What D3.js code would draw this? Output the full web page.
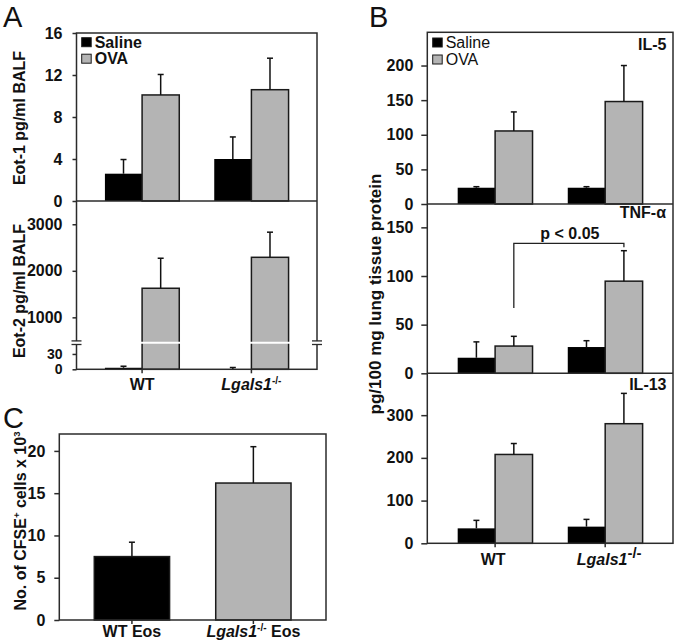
<!DOCTYPE html>
<html><head><meta charset="utf-8">
<script src="https://cdn.jsdelivr.net/npm/d3@7"></script>
<style>
body{margin:0;background:#fff;}
svg{display:block;font-family:"Liberation Sans",Arial,sans-serif;}
</style></head><body>
<svg id="c" width="677" height="642"></svg>
<script>
// ---------- data ----------
const groups = ["WT", "Lgals1"];
const series = ["Saline", "OVA"];
const eot1Saline = [2.6, 4.0],  eot1SalineErr = [1.35, 2.1];
const eot1OVA    = [10.1, 10.6], eot1OVAErr   = [1.95, 3.0];
const eot2Saline = [3, 0.5],     eot2SalineErr = [3, 3];
const eot2OVA    = [1625, 2290], eot2OVAErr    = [645, 540];
const il5Saline  = [23.5, 23.5], il5SalineErr  = [1.5, 1.5];
const il5OVA     = [105.5, 148], il5OVAErr     = [27.5, 52];
const tnfSaline  = [16, 27],     tnfSalineErr  = [16.3, 6.5];
const tnfOVA     = [28, 94.7],   tnfOVAErr     = [10, 31.3];
const il13Saline = [35, 39],     il13SalineErr = [18.7, 17];
const il13OVA    = [208, 280],   il13OVAErr    = [25.6, 71];
const cfseGroups = ["WT Eos", "Lgals1 Eos"];
const cfseValues = [7.5, 16.2],  cfseErr = [1.7, 4.3];
const ticksEot1 = [0, 4, 8, 12, 16];
const ticksEot2Low = [0, 30], ticksEot2High = [1000, 2000, 3000];
const ticksIL5 = [0, 50, 100, 150, 200];
const ticksTNF = [0, 50, 100, 150];
const ticksIL13 = [0, 100, 200, 300];
const ticksCFSE = [0, 5, 10, 15, 20];
const pBracket = {label: "p < 0.05", top: 133.5, leftFoot: 67, rightFoot: 129.5};

// ---------- drawing ----------
const svg = d3.select("#c");
const FONT = '"Liberation Sans",Arial,sans-serif';
const BLACK = "#000", GREY = "#b4b4b4", AX = "#2b2b2b";
const colors = {Saline: BLACK, OVA: GREY};

function yAxis(scale, ticks, x, tickLen, pad, size) {
  const g = svg.append("g").attr("transform", `translate(${x},0)`);
  g.call(d3.axisLeft(scale).tickValues(ticks).tickFormat(d3.format("d"))
    .tickSize(tickLen).tickPadding(pad).tickSizeOuter(0));
  g.select(".domain").remove();
  g.attr("font-family", FONT).attr("font-size", size || 16);
  g.selectAll(".tick line").attr("stroke", AX).attr("stroke-width", 1.5);
  g.selectAll(".tick text").attr("font-weight", "bold").attr("fill", "#111");
  return g;
}
function frame(x0, y0, x1, y1) {
  svg.append("rect").attr("x", x0).attr("y", y0).attr("width", x1 - x0).attr("height", y1 - y0)
    .attr("fill", "none").attr("stroke", AX).attr("stroke-width", 1.5);
}
function hline(x0, x1, y) {
  svg.append("line").attr("x1", x0).attr("x2", x1).attr("y1", y).attr("y2", y)
    .attr("stroke", AX).attr("stroke-width", 1.5);
}
function errBar(x, yv, ye) {
  svg.append("line").attr("x1", x).attr("x2", x).attr("y1", yv).attr("y2", ye)
    .attr("stroke", "#111").attr("stroke-width", 1.5);
  svg.append("line").attr("x1", x - 3).attr("x2", x + 3).attr("y1", ye).attr("y2", ye)
    .attr("stroke", "#111").attr("stroke-width", 1.5);
}
function groupedBars(xg, y, base, data) {
  const xs = d3.scaleBand().domain(series).range([0, xg.bandwidth()]).padding(0);
  groups.forEach((g, i) => {
    series.forEach(s => {
      const v = data[s][i], e = data[s + "Err"][i];
      const bx = xg(g) + xs(s);
      svg.append("rect").attr("x", bx).attr("y", y(v)).attr("width", xs.bandwidth())
        .attr("height", Math.max(0, base - y(v)))
        .attr("fill", colors[s]).attr("stroke", s === "OVA" ? "#1a1a1a" : "none").attr("stroke-width", 1.5);
      errBar(bx + xs.bandwidth() / 2, y(v), y(v + e));
    });
  });
}
function xTicks(xs, y) {
  xs.forEach(x => svg.append("line").attr("x1", x).attr("x2", x).attr("y1", y).attr("y2", y + 4)
    .attr("stroke", AX).attr("stroke-width", 1.5));
}
function text(x, y, str, opts = {}) {
  return svg.append("text").attr("x", x).attr("y", y).text(str)
    .attr("font-family", FONT).attr("font-size", opts.size || 16)
    .attr("font-weight", opts.weight || "bold").attr("text-anchor", opts.anchor || "start")
    .attr("fill", "#111");
}
function vLabel(x, y, parts, size) {
  const t = svg.append("text").attr("transform", `translate(${x},${y}) rotate(-90)`)
    .attr("text-anchor", "middle").attr("font-family", FONT).attr("font-size", size)
    .attr("font-weight", "bold").attr("fill", "#111");
  parts.forEach(p => {
    const ts = t.append("tspan").text(p.t);
    if (p.sup) ts.attr("font-size", size * 0.6).attr("dy", -size * 0.4);
    if (p.down) ts.attr("dy", size * 0.4);
  });
  return t;
}
function lgalsLabel(cx, y, size, supSize, supDy, suffix) {
  const t = svg.append("text").attr("x", cx).attr("y", y).attr("text-anchor", "middle")
    .attr("font-family", FONT).attr("font-size", size).attr("font-weight", "bold").attr("fill", "#111");
  t.append("tspan").text("Lgals1").attr("font-style", "italic");
  t.append("tspan").text("-/-").attr("font-size", supSize).attr("dy", supDy);
  if (suffix) t.append("tspan").text(suffix).attr("dy", -supDy);
  return t;
}
function legend(x, y, weight, size, gap) {
  series.forEach((s, i) => {
    svg.append("rect").attr("x", x).attr("y", y + i * gap).attr("width", 9.5).attr("height", 9)
      .attr("fill", colors[s]).attr("stroke", "#1a1a1a").attr("stroke-width", 1);
    text(x + 13, y + 10 + i * gap, s, {weight, size});
  });
}

// ---------- Panel A ----------
const A = {x0: 76.5, x1: 317, top: 33, mid: 201, bot: 369.3, brk: 342.7};
const xA = d3.scaleBand().domain(groups).range([A.x0, A.x1]).paddingInner(0.32).paddingOuter(0.26);
const yA1 = d3.scaleLinear().domain([0, 16]).range([A.mid, A.top]);
const yA2low = d3.scaleLinear().domain([0, 52]).range([A.bot, A.brk]);
const yA2high = d3.scaleLinear().domain([455, 3500]).range([A.brk, A.mid]);
const yA2 = v => v <= 52 ? yA2low(v) : yA2high(v);

groupedBars(xA, yA1, A.mid, {Saline: eot1Saline, SalineErr: eot1SalineErr, OVA: eot1OVA, OVAErr: eot1OVAErr});
groupedBars(xA, yA2, A.bot, {Saline: eot2Saline, SalineErr: eot2SalineErr, OVA: eot2OVA, OVAErr: eot2OVAErr});
frame(A.x0, A.top, A.x1, A.bot);
hline(A.x0, A.x1, A.mid);
yAxis(yA1, ticksEot1, A.x0, 4, 10);
yAxis(yA2high, ticksEot2High, A.x0, 4, 10);
yAxis(yA2low, ticksEot2Low, A.x0, 4, 10, 14);
// break: white gap across bars and axis marks
svg.append("line").attr("x1", A.x0 + 1).attr("x2", A.x1 - 1).attr("y1", A.brk).attr("y2", A.brk)
  .attr("stroke", "#fff").attr("stroke-width", 2);
[A.x0, A.x1].forEach(x => {
  svg.append("rect").attr("x", x - 2).attr("y", A.brk - 1.6).attr("width", 4).attr("height", 3.2).attr("fill", "#fff");
  [A.brk - 1.8, A.brk + 1.8].forEach(yy =>
    svg.append("line").attr("x1", x - 5).attr("x2", x + 5).attr("y1", yy).attr("y2", yy)
      .attr("stroke", AX).attr("stroke-width", 1.3));
});
xTicks(groups.map(g => xA(g) + xA.bandwidth() / 2), A.bot);
legend(81.7, 37.7, "bold", 16, 16.5);
text(xA("WT") + xA.bandwidth() / 2, 390, "WT", {anchor: "middle"});
lgalsLabel(xA("Lgals1") + xA.bandwidth() / 2, 390, 16, 10, -6);
vLabel(25, 118, [{t: "Eot-1 pg/ml BALF"}], 16);
vLabel(25, 291, [{t: "Eot-2 pg/ml BALF"}], 16);
text(3, 27, "A", {weight: "normal", size: 29});

// ---------- Panel B ----------
const B = {x0: 427.3, x1: 673, top: 32.3, z1: 204, z2: 373.3, z3: 543.3};
const xB = d3.scaleBand().domain(groups).range([B.x0, B.x1]).paddingInner(0.32).paddingOuter(0.276);
const yIL5 = d3.scaleLinear().domain([0, 248]).range([B.z1, B.top]);
const yTNF = d3.scaleLinear().domain([0, 174]).range([B.z2, B.z1]);
const yIL13 = d3.scaleLinear().domain([0, 398]).range([B.z3, B.z2]);
groupedBars(xB, yIL5, B.z1, {Saline: il5Saline, SalineErr: il5SalineErr, OVA: il5OVA, OVAErr: il5OVAErr});
groupedBars(xB, yTNF, B.z2, {Saline: tnfSaline, SalineErr: tnfSalineErr, OVA: tnfOVA, OVAErr: tnfOVAErr});
groupedBars(xB, yIL13, B.z3, {Saline: il13Saline, SalineErr: il13SalineErr, OVA: il13OVA, OVAErr: il13OVAErr});
frame(B.x0, B.top, B.x1, B.z3);
hline(B.x0, B.x1, B.z1);
hline(B.x0, B.x1, B.z2);
yAxis(yIL5, ticksIL5, B.x0, 6, 8);
yAxis(yTNF, ticksTNF, B.x0, 6, 8);
yAxis(yIL13, ticksIL13, B.x0, 6, 8);
xTicks(groups.map(g => xB(g) + xB.bandwidth() / 2), B.z3);
legend(432.7, 38, "normal", 16, 17);
text(666.5, 50, "IL-5", {anchor: "end"});
text(666, 218, "TNF-α", {anchor: "end"});
text(666.5, 390, "IL-13", {anchor: "end"});
// significance bracket between the two OVA bars
{
  const xs = d3.scaleBand().domain(series).range([0, xB.bandwidth()]);
  const xl = xB("WT") + xs("OVA") + xs.bandwidth() / 2;
  const xr = xB("Lgals1") + xs("OVA") + xs.bandwidth() / 2;
  const p = d3.path();
  p.moveTo(xl, yTNF(pBracket.leftFoot)); p.lineTo(xl, yTNF(pBracket.top));
  p.lineTo(xr, yTNF(pBracket.top)); p.lineTo(xr, yTNF(pBracket.rightFoot));
  svg.append("path").attr("d", p.toString()).attr("fill", "none").attr("stroke", "#222").attr("stroke-width", 1.3);
  text((xl + xr) / 2 + 1, yTNF(pBracket.top) - 4, pBracket.label, {anchor: "middle"});
}
text(xB("WT") + xB.bandwidth() / 2 - 2, 565, "WT", {anchor: "middle"});
lgalsLabel(xB("Lgals1") + xB.bandwidth() / 2 + 4, 565, 16, 15, -7);
vLabel(381, 294, [{t: "pg/100 mg lung tissue protein"}], 17);
text(369, 27, "B", {weight: "normal", size: 29});

// ---------- Panel C ----------
const C = {x0: 59.3, x1: 326, top: 434, bot: 620};
const xC = d3.scaleBand().domain(cfseGroups).range([C.x0, C.x1]).paddingInner(0.38).paddingOuter(0.288);
const yC = d3.scaleLinear().domain([0, 22]).range([C.bot, C.top]);
cfseGroups.forEach((g, i) => {
  svg.append("rect").attr("x", xC(g)).attr("y", yC(cfseValues[i])).attr("width", xC.bandwidth())
    .attr("height", C.bot - yC(cfseValues[i]))
    .attr("fill", i === 0 ? BLACK : GREY).attr("stroke", "#1a1a1a").attr("stroke-width", 1.5);
  errBar(xC(g) + xC.bandwidth() / 2, yC(cfseValues[i]), yC(cfseValues[i] + cfseErr[i]));
});
frame(C.x0, C.top, C.x1, C.bot);
yAxis(yC, ticksCFSE, C.x0, 5, 9);
xTicks(cfseGroups.map(g => xC(g) + xC.bandwidth() / 2), C.bot);
text(xC("WT Eos") + xC.bandwidth() / 2, 637, "WT Eos", {anchor: "middle"});
lgalsLabel(xC("Lgals1 Eos") + xC.bandwidth() / 2, 637, 16, 10, -6, " Eos");
vLabel(26, 521, [{t: "No. of CFSE"}, {t: "+", sup: true}, {t: " cells x 10", down: true}, {t: "3", sup: true}], 16);
text(3, 428, "C", {weight: "normal", size: 29});
</script>
</body></html>
